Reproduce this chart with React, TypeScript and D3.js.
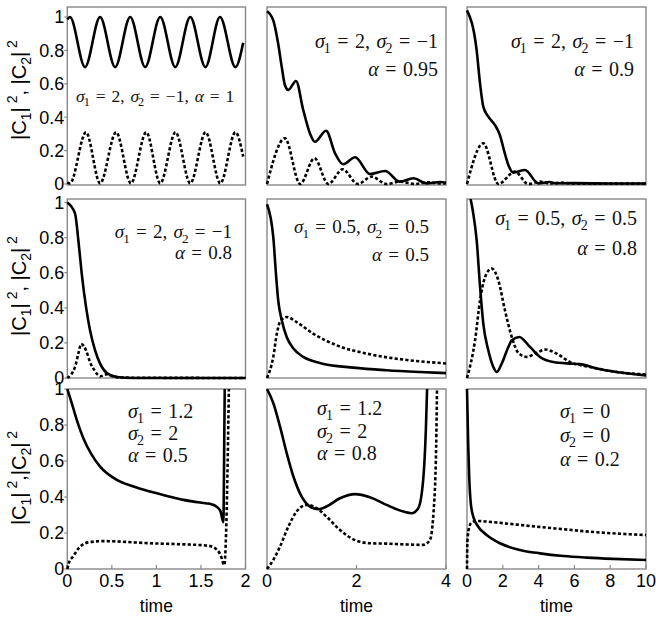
import React from 'react';
import * as d3 from 'd3';

type Pt = [number, number];

// tick labels
const yTicks = [0, 0.2, 0.4, 0.6, 0.8, 1];
const xTicksA = [0, 0.5, 1, 1.5, 2];
const xTicksB = [0, 2, 4];
const xTicksC = [0, 2, 4, 6, 8, 10];

// row 1 : sigma1 = 2, sigma2 = -1  (alpha = 1, 0.95, 0.9)
const r1c1Solid: Pt[] = [[0, 0.985], [0.03, 1], [0.199, 0.7], [0.368, 1], [0.537, 0.7], [0.706, 1], [0.874, 0.7], [1.043, 1], [1.212, 0.7], [1.38, 1], [1.55, 0.7], [1.714, 1], [1.887, 0.7], [1.974, 0.846]];
const r1c1Dash: Pt[] = [[0, 0.01], [0.03, 0.004], [0.21, 0.31], [0.368, 0.004], [0.548, 0.31], [0.714, 0.004], [0.886, 0.31], [1.043, 0.004], [1.215, 0.31], [1.38, 0.004], [1.553, 0.31], [1.718, 0.004], [1.887, 0.31], [1.974, 0.164]];
const r1c2Solid: Pt[] = [[0, 1.035], [0.14, 0.98], [0.25, 0.84], [0.33, 0.7], [0.4, 0.593], [0.476, 0.563], [0.648, 0.617], [0.81, 0.443], [0.96, 0.303], [1.07, 0.253], [1.32, 0.319], [1.52, 0.184], [1.7, 0.118], [1.97, 0.16], [2.3, 0.06], [2.64, 0.078], [2.97, 0.014], [3.27, 0.034], [3.57, 0.004], [3.87, 0.012], [4, 0.008]];
const r1c2Dash: Pt[] = [[0, 0], [0.4, 0.274], [0.74, 0], [1.06, 0.154], [1.37, 0], [1.69, 0.088], [2.03, 0], [2.34, 0.044], [2.67, 0], [2.97, 0.014], [3.31, 0], [3.6, 0.01], [3.9, 0.003], [4, 0.005]];
const r1c3Solid: Pt[] = [[0, 1.04], [0.54, 0.8], [0.73, 0.6], [0.91, 0.463], [1.19, 0.403], [1.56, 0.353], [1.84, 0.293], [2.06, 0.204], [2.31, 0.114], [2.59, 0.068], [3.24, 0.084], [3.98, 0.004], [4.6, 0.012], [5.0, 0.004], [6, 0.005], [8, 0.003], [10, 0.003]];
const r1c3Dash: Pt[] = [[0, 0], [0.91, 0.244], [1.75, 0], [2.68, 0.074], [3.42, 0], [4.08, 0.014], [4.6, 0.003], [5.2, 0.008], [6, 0.002], [10, 0.002]];

// row 2 : (2, -1, 0.8), (0.5, 0.5, 0.5), (0.5, 0.5, 0.8)
const r2c1Solid: Pt[] = [[0, 1], [0.087, 0.937], [0.124, 0.785], [0.162, 0.595], [0.21, 0.405], [0.255, 0.272], [0.312, 0.158], [0.368, 0.082], [0.443, 0.029], [0.556, 0.006], [0.74, 0], [2, 0]];
const r2c1Dash: Pt[] = [[0, 0], [0.087, 0.063], [0.124, 0.139], [0.155, 0.194], [0.21, 0.158], [0.255, 0.091], [0.31, 0.04], [0.368, 0.01], [0.443, 0.021], [0.52, 0.008], [0.63, 0.002], [2, 0]];
const r2c2Solid: Pt[] = [[0, 0.99], [0.14, 0.804], [0.2, 0.595], [0.25, 0.443], [0.33, 0.329], [0.44, 0.234], [0.59, 0.168], [0.81, 0.12], [1.18, 0.086], [1.93, 0.059], [2.67, 0.044], [3.42, 0.034], [4, 0.028]];
const r2c2Dash: Pt[] = [[0, 0], [0.14, 0.12], [0.22, 0.253], [0.29, 0.319], [0.44, 0.348], [0.66, 0.319], [1.03, 0.253], [1.56, 0.186], [2.3, 0.135], [3.05, 0.105], [4, 0.083]];
const r2c3Solid: Pt[] = [[0, 1.15], [0.13, 1.06], [0.32, 0.956], [0.54, 0.785], [0.73, 0.519], [0.91, 0.31], [1.19, 0.158], [1.47, 0.063], [1.66, 0.034], [1.94, 0.082], [2.31, 0.177], [2.5, 0.215], [2.92, 0.234], [3.52, 0.177], [4.08, 0.12], [4.82, 0.091], [5.75, 0.082], [6.31, 0.079], [7.25, 0.054], [8.36, 0.034], [10, 0.015]];
const r2c3Dash: Pt[] = [[0, 0], [0.45, 0.215], [0.73, 0.443], [1.01, 0.576], [1.38, 0.624], [1.75, 0.557], [2.12, 0.386], [2.5, 0.234], [2.87, 0.143], [3.34, 0.12], [3.89, 0.143], [4.36, 0.162], [5.01, 0.139], [5.75, 0.091], [6.87, 0.063], [8.36, 0.034], [10, 0.02]];

// row 3 : (1.2, 2, 0.5), (1.2, 2, 0.8), (0, 0, 0.2)
const r3c1Solid: Pt[] = [[0, 1], [0.05, 0.922], [0.106, 0.829], [0.18, 0.727], [0.275, 0.634], [0.368, 0.569], [0.556, 0.495], [0.743, 0.458], [0.93, 0.43], [1.12, 0.406], [1.305, 0.384], [1.49, 0.369], [1.6, 0.362], [1.68, 0.345], [1.72, 0.32], [1.752, 0.26], [1.757, 0.45], [1.762, 0.75], [1.768, 1.05]];
const r3c1Dash: Pt[] = [[0, 0], [0.015, 0.03], [0.068, 0.072], [0.143, 0.124], [0.236, 0.148], [0.4, 0.155], [0.556, 0.153], [0.93, 0.143], [1.305, 0.137], [1.57, 0.13], [1.66, 0.115], [1.72, 0.078], [1.762, 0.022], [1.785, 0.25], [1.8, 0.6], [1.815, 1.05]];
const r3c2Solid: Pt[] = [[0, 1], [0.14, 0.922], [0.29, 0.792], [0.44, 0.644], [0.59, 0.514], [0.775, 0.402], [0.96, 0.347], [1.15, 0.332], [1.33, 0.347], [1.63, 0.393], [1.97, 0.416], [2.3, 0.399], [2.67, 0.356], [3.05, 0.319], [3.23, 0.31], [3.38, 0.338], [3.49, 0.495], [3.55, 0.774], [3.58, 1.02]];
const r3c2Dash: Pt[] = [[0, 0], [0.14, 0.05], [0.29, 0.124], [0.476, 0.235], [0.66, 0.319], [0.89, 0.356], [1.11, 0.338], [1.33, 0.291], [1.63, 0.217], [1.93, 0.165], [2.3, 0.143], [2.67, 0.141], [3.05, 0.137], [3.49, 0.134], [3.64, 0.161], [3.72, 0.31], [3.78, 0.68], [3.8, 1.02]];
const r3c3Solid: Pt[] = [[0, 1], [0.07, 0.68], [0.13, 0.495], [0.21, 0.366], [0.35, 0.291], [0.63, 0.235], [1.1, 0.189], [1.84, 0.143], [2.96, 0.106], [4.08, 0.087], [5.38, 0.072], [6.69, 0.063], [8.17, 0.056], [10, 0.05]];
const r3c3Dash: Pt[] = [[0, 0], [0.02, 0.15], [0.13, 0.235], [0.26, 0.258], [0.54, 0.267], [1.66, 0.258], [3.52, 0.239], [5.38, 0.221], [7.25, 0.204], [9.11, 0.193], [10, 0.189]];

const W = 656;
const H = 618;
const SANS = 'Liberation Sans, Arial, sans-serif';
const SERIF = 'Liberation Serif, Times New Roman, serif';

const cols = [
  { x0: 67.3, x1: 245.5, dom: [0, 2], ticks: xTicksA },
  { x0: 267, x1: 446, dom: [0, 4], ticks: xTicksB },
  { x0: 467, x1: 646, dom: [0, 10], ticks: xTicksC },
];
const rows = [
  { y0: 7, y1: 185, dom: [-0.006, 1.06], labelY: 90, comma: ', ' },
  { y0: 199, y1: 378, dom: [0, 1.02], labelY: 286, comma: ', ' },
  { y0: 389, y1: 569, dom: [0, 1], labelY: 478, comma: ',' },
];

type Note = { x: number; y: number; anchor: string; size: number; text: string };
type Panel = { r: number; c: number; solid: Pt[]; dash: Pt[]; notes: Note[] };

const panels: Panel[] = [
  { r: 0, c: 0, solid: r1c1Solid, dash: r1c1Dash, notes: [
    { x: 76, y: 102, anchor: 'start', size: 17.5, text: 'σ_1 = 2, σ_2 = −1, α = 1' }] },
  { r: 0, c: 1, solid: r1c2Solid, dash: r1c2Dash, notes: [
    { x: 438, y: 48, anchor: 'end', size: 20, text: 'σ_1 = 2, σ_2 = −1' },
    { x: 438, y: 76, anchor: 'end', size: 20, text: 'α = 0.95' }] },
  { r: 0, c: 2, solid: r1c3Solid, dash: r1c3Dash, notes: [
    { x: 634, y: 48, anchor: 'end', size: 20, text: 'σ_1 = 2, σ_2 = −1' },
    { x: 634, y: 76, anchor: 'end', size: 20, text: 'α = 0.9' }] },
  { r: 1, c: 0, solid: r2c1Solid, dash: r2c1Dash, notes: [
    { x: 232, y: 238, anchor: 'end', size: 19, text: 'σ_1 = 2, σ_2 = −1' },
    { x: 232, y: 259, anchor: 'end', size: 19, text: 'α = 0.8' }] },
  { r: 1, c: 1, solid: r2c2Solid, dash: r2c2Dash, notes: [
    { x: 429, y: 233, anchor: 'end', size: 19, text: 'σ_1 = 0.5, σ_2 = 0.5' },
    { x: 429, y: 261, anchor: 'end', size: 19, text: 'α = 0.5' }] },
  { r: 1, c: 2, solid: r2c3Solid, dash: r2c3Dash, notes: [
    { x: 637, y: 225, anchor: 'end', size: 20, text: 'σ_1 = 0.5, σ_2 = 0.5' },
    { x: 637, y: 255, anchor: 'end', size: 20, text: 'α = 0.8' }] },
  { r: 2, c: 0, solid: r3c1Solid, dash: r3c1Dash, notes: [
    { x: 128, y: 418, anchor: 'start', size: 20, text: 'σ_1 = 1.2' },
    { x: 128, y: 440, anchor: 'start', size: 20, text: 'σ_2 = 2' },
    { x: 128, y: 462, anchor: 'start', size: 20, text: 'α = 0.5' }] },
  { r: 2, c: 1, solid: r3c2Solid, dash: r3c2Dash, notes: [
    { x: 317, y: 415, anchor: 'start', size: 20, text: 'σ_1 = 1.2' },
    { x: 317, y: 438, anchor: 'start', size: 20, text: 'σ_2 = 2' },
    { x: 317, y: 460, anchor: 'start', size: 20, text: 'α = 0.8' }] },
  { r: 2, c: 2, solid: r3c3Solid, dash: r3c3Dash, notes: [
    { x: 560, y: 418, anchor: 'start', size: 20, text: 'σ_1 = 0' },
    { x: 560, y: 442, anchor: 'start', size: 20, text: 'σ_2 = 0' },
    { x: 560, y: 466, anchor: 'start', size: 20, text: 'α = 0.2' }] },
];

// turns "σ_1 = 2" into tspans : greek letters italic, _x subscript
const MathText = ({ note }: { note: Note }) => {
  const { x, y, anchor, size, text } = note;
  const pieces: React.ReactNode[] = [];
  const shift = size * 0.25;
  let plain = '';
  let back = 0; // dy still owed after a subscript
  let k = 0;
  const flush = () => {
    if (plain) {
      pieces.push(<tspan key={k++} dy={back || undefined} fontSize={size}>{plain}</tspan>);
      back = 0;
    }
    plain = '';
  };
  for (let i = 0; i < text.length; i++) {
    const ch = text[i];
    if (ch === '_') {
      flush();
      pieces.push(<tspan key={k++} dx={-1} dy={shift} fontSize={size * 0.7}>{text[i + 1]}</tspan>);
      back = -shift;
      i++;
    } else if (ch === 'σ' || ch === 'α') {
      flush();
      pieces.push(<tspan key={k++} dy={back || undefined} fontStyle="italic" fontSize={size}>{ch}</tspan>);
      back = 0;
    } else {
      plain += ch;
    }
  }
  flush();
  return (
    <text x={x} y={y} textAnchor={anchor} fontFamily={SERIF} fontSize={size}
      wordSpacing={1.5} style={{ whiteSpace: 'pre' }} fill="#111">
      {pieces}
    </text>
  );
};

const YLabel = ({ y, comma }: { y: number; comma: string }) => (
  <text transform={`translate(26,${y}) rotate(-90)`} textAnchor="middle"
    fontFamily={SANS} fontSize={20} style={{ whiteSpace: 'pre' }}>
    <tspan fontSize={20}>|C</tspan>
    <tspan dy={5} fontSize={14}>1</tspan>
    <tspan dy={-5} fontSize={20}>|</tspan>
    <tspan dy={-9} fontSize={14}> 2</tspan>
    <tspan dy={9} fontSize={20}>{comma}|C</tspan>
    <tspan dy={5} fontSize={14}>2</tspan>
    <tspan dy={-5} fontSize={20}>|</tspan>
    <tspan dy={-9} fontSize={14}> 2</tspan>
  </text>
);

const App = () => {
  return (
    <svg width={W} height={H} style={{ position: 'absolute', left: 0, top: 0, background: '#fff' }}>
      <defs>
        {panels.map((p) => {
          const c = cols[p.c];
          const r = rows[p.r];
          return (
            <clipPath id={`clip${p.r}${p.c}`} key={`cp${p.r}${p.c}`}>
              <rect x={c.x0 - 2} y={r.y0} width={c.x1 - c.x0 + 4} height={r.y1 - r.y0 + 2} />
            </clipPath>
          );
        })}
      </defs>

      {panels.map((p) => {
        const c = cols[p.c];
        const r = rows[p.r];
        const x = d3.scaleLinear().domain(c.dom).range([c.x0, c.x1]);
        const y = d3.scaleLinear().domain(r.dom).range([r.y1, r.y0]);
        const line = d3.line<Pt>().x((d) => x(d[0])).y((d) => y(d[1])).curve(d3.curveMonotoneX);
        return (
          <g key={`p${p.r}${p.c}`}>
            <rect x={c.x0} y={r.y0} width={c.x1 - c.x0} height={r.y1 - r.y0}
              fill="none" stroke="#888" strokeWidth={1.4} />
            {p.c === 0 && yTicks.map((t) => (
              <g key={`yt${t}`}>
                <line x1={c.x0 - 3} x2={c.x0} y1={y(t)} y2={y(t)} stroke="#888" strokeWidth={1.2} />
                <text x={c.x0 - 3} y={y(t)} dy="0.36em" textAnchor="end" fontFamily={SANS} fontSize={18}>
                  {String(t)}
                </text>
              </g>
            ))}
            {p.r === 2 && c.ticks.map((t) => (
              <g key={`xt${t}`}>
                <line x1={x(t)} x2={x(t)} y1={r.y1} y2={r.y1 - 4} stroke="#888" strokeWidth={1.2} />
                <text x={x(t)} y={587} textAnchor="middle" fontFamily={SANS} fontSize={18}>
                  {String(t)}
                </text>
              </g>
            ))}
            <g clipPath={`url(#clip${p.r}${p.c})`}>
              <path d={line(p.dash) ?? ''} fill="none" stroke="#000" strokeWidth={2.6}
                strokeDasharray="3.2,2.2" />
              <path d={line(p.solid) ?? ''} fill="none" stroke="#000" strokeWidth={2.6} />
            </g>
            {p.notes.map((n, i) => <MathText key={i} note={n} />)}
          </g>
        );
      })}

      {rows.map((r, i) => <YLabel key={`yl${i}`} y={r.labelY} comma={r.comma} />)}
      {cols.map((c, i) => (
        <text key={`xl${i}`} x={(c.x0 + c.x1) / 2} y={612} textAnchor="middle" fontFamily={SANS} fontSize={17.5}>
          time
        </text>
      ))}
    </svg>
  );
};

export default App;
